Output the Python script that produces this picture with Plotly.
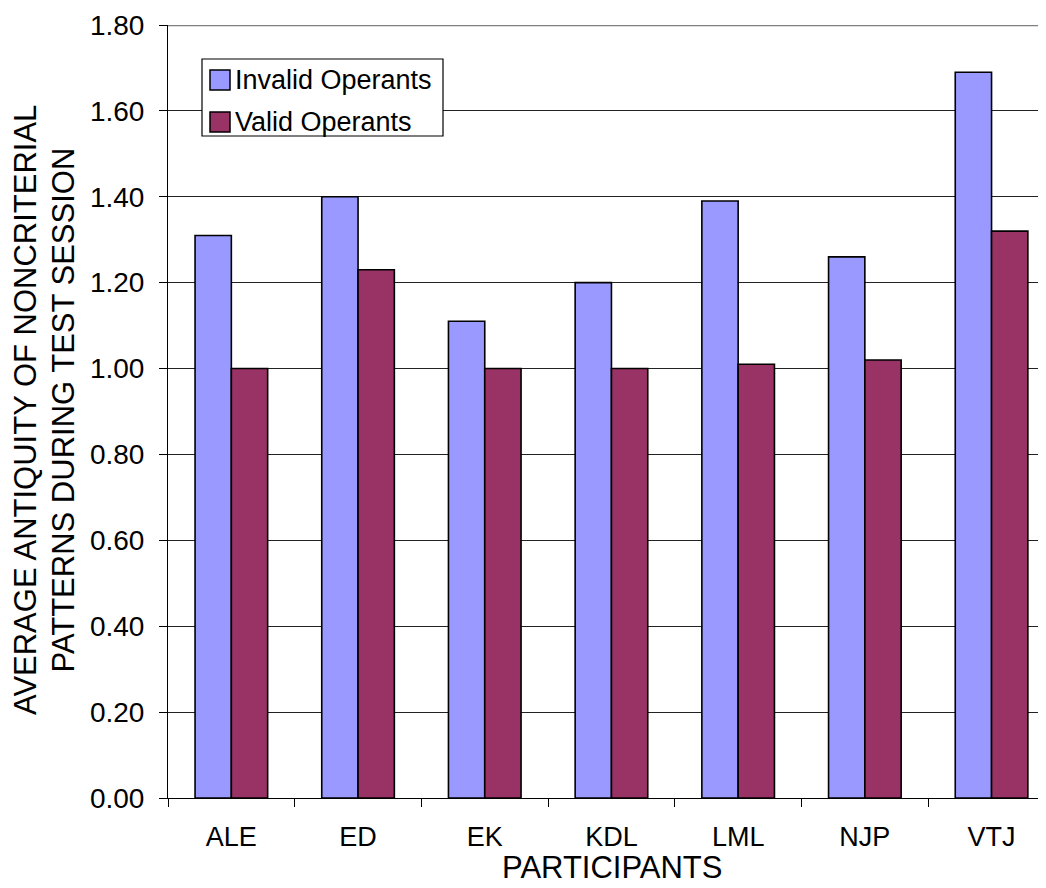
import plotly.graph_objects as go

participants = ["ALE", "ED", "EK", "KDL", "LML", "NJP", "VTJ"]
invalid_operants = [1.31, 1.40, 1.11, 1.20, 1.39, 1.26, 1.69]
valid_operants = [1.00, 1.23, 1.00, 1.00, 1.01, 1.02, 1.32]
series_names = ["Invalid Operants", "Valid Operants"]
series_colors = ["#9999FF", "#993366"]
y_ticks = [0.0, 0.2, 0.4, 0.6, 0.8, 1.0, 1.2, 1.4, 1.6, 1.8]
y_tick_labels = ["0.00", "0.20", "0.40", "0.60", "0.80", "1.00", "1.20", "1.40", "1.60", "1.80"]
y_title_lines = ["AVERAGE ANTIQUITY OF NONCRITERIAL", "PATTERNS DURING TEST SESSION"]
x_title = "PARTICIPANTS"

FONT = "Liberation Sans, Arial, sans-serif"
OFF = 8  # page body margin
W, H = 1046 - OFF, 888 - OFF
L, R, T, B = 168 - OFF, 0, 25 - OFF, 90
PW, PH = W - L - R, H - T - B


def px(xpix):
    return (xpix - OFF - L) / PW


def py(ypix):
    return 1 - (ypix - OFF - T) / PH


fig = go.Figure()
for name, vals, col in zip(series_names, [invalid_operants, valid_operants], series_colors):
    fig.add_trace(go.Bar(
        x=participants, y=vals, name=name, showlegend=False,
        marker=dict(color=col, line=dict(color="#000000", width=1.6)),
    ))

fig.update_layout(
    width=W, height=H,
    margin=dict(l=L, r=R, t=T, b=B, autoexpand=False),
    paper_bgcolor="white", plot_bgcolor="white",
    barmode="group", bargap=0.427, bargroupgap=0,
    font=dict(family=FONT, color="black"),
    showlegend=False,
    xaxis=dict(
        range=[-0.5, -0.5 + PW / 126.7], automargin=False,
        tickson="boundaries", ticks="outside", ticklen=8, tickcolor="black",
        tickfont=dict(size=27), showline=True, linecolor="black", linewidth=1,
        ticklabelstandoff=15,
        showgrid=False,
    ),
    yaxis=dict(
        range=[0, 1.8], tickvals=y_ticks, ticktext=y_tick_labels, automargin=False,
        ticks="outside", ticklen=8, tickcolor="black",
        tickfont=dict(size=28), showline=True, linecolor="black", linewidth=1,
        ticklabelstandoff=9,
        showgrid=True, gridcolor="#222222", gridwidth=1,
        zeroline=False,
    ),
)
fig.add_shape(type="line", xref="paper", yref="y", x0=0, x1=1, y0=1.8, y1=1.8,
              line=dict(color="#808080", width=2.5))

# axis titles
fig.add_annotation(text=x_title, xref="paper", yref="paper", x=px(611.5), y=py(888),
                   xanchor="center", yanchor="bottom", yshift=1, showarrow=False,
                   font=dict(size=31, family=FONT, color="black"))
for xp, line in zip([25, 62.5], y_title_lines):
    fig.add_annotation(text=line, xref="paper", yref="paper", x=px(xp), y=py(410),
                       xanchor="center", yanchor="middle", textangle=-90, showarrow=False,
                       font=dict(size=31, family=FONT, color="black"))

# legend (box, swatches, labels)
fig.add_shape(type="rect", xref="paper", yref="paper", x0=px(202), x1=px(443),
              y0=py(59), y1=py(136), line=dict(color="black", width=1.2), fillcolor="white")
for i, (name, col) in enumerate(zip(series_names, series_colors)):
    cy = 80 + 42 * i
    fig.add_shape(type="rect", xref="paper", yref="paper", x0=px(210), x1=px(230),
                  y0=py(cy - 10), y1=py(cy + 10), line=dict(color="black", width=1.5),
                  fillcolor=col)
    fig.add_annotation(text=name, xref="paper", yref="paper", x=px(233), y=py(cy),
                       xanchor="left", yanchor="middle", showarrow=False,
                       font=dict(size=27, family=FONT, color="black"))

fig.write_html("out.html")
